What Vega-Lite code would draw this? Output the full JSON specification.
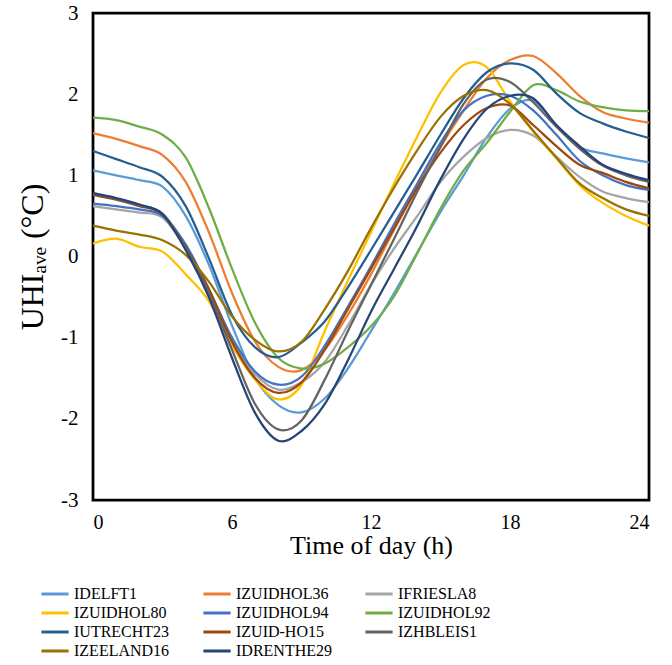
{
  "$schema": "https://vega.github.io/schema/vega-lite/v6.json",
  "width": 556,
  "height": 487,
  "autosize": {"type": "none"},
  "padding": {"left": 93, "top": 13, "right": 23, "bottom": 165},
  "background": "white",
  "config": {
    "view": {"stroke": "black", "strokeWidth": 2.75},
    "font": "Liberation Serif",
    "legend": {"labelFont": "Liberation Serif", "labelFontSize": 16, "labelColor": "black"}
  },
  "data": {
    "values": [
      {"h":0,"IDELFT1":1.06,"IZUIDHOL36":1.52,"IFRIESLA8":0.62,"IZUIDHOL80":0.16,"IZUIDHOL94":0.65,"IZUIDHOL92":1.71,"IUTRECHT23":1.30,"IZUID-HO15":0.76,"IZHBLEIS1":0.78,"IZEELAND16":0.38,"IDRENTHE29":0.78},
      {"h":1,"IDELFT1":1.00,"IZUIDHOL36":1.45,"IFRIESLA8":0.58,"IZUIDHOL80":0.22,"IZUIDHOL94":0.62,"IZUIDHOL92":1.68,"IUTRECHT23":1.20,"IZUID-HO15":0.70,"IZHBLEIS1":0.71,"IZEELAND16":0.32,"IDRENTHE29":0.72},
      {"h":2,"IDELFT1":0.94,"IZUIDHOL36":1.36,"IFRIESLA8":0.54,"IZUIDHOL80":0.12,"IZUIDHOL94":0.58,"IZUIDHOL92":1.60,"IUTRECHT23":1.10,"IZUID-HO15":0.62,"IZHBLEIS1":0.63,"IZEELAND16":0.27,"IDRENTHE29":0.64},
      {"h":3,"IDELFT1":0.86,"IZUIDHOL36":1.25,"IFRIESLA8":0.48,"IZUIDHOL80":0.06,"IZUIDHOL94":0.50,"IZUIDHOL92":1.50,"IUTRECHT23":0.98,"IZUID-HO15":0.52,"IZHBLEIS1":0.53,"IZEELAND16":0.20,"IDRENTHE29":0.52},
      {"h":4,"IDELFT1":0.50,"IZUIDHOL36":0.92,"IFRIESLA8":0.10,"IZUIDHOL80":-0.22,"IZUIDHOL94":0.15,"IZUIDHOL92":1.22,"IUTRECHT23":0.62,"IZUID-HO15":0.12,"IZHBLEIS1":0.12,"IZEELAND16":0.02,"IDRENTHE29":0.08},
      {"h":5,"IDELFT1":-0.10,"IZUIDHOL36":0.30,"IFRIESLA8":-0.45,"IZUIDHOL80":-0.55,"IZUIDHOL94":-0.40,"IZUIDHOL92":0.60,"IUTRECHT23":-0.02,"IZUID-HO15":-0.40,"IZHBLEIS1":-0.45,"IZEELAND16":-0.31,"IDRENTHE29":-0.50},
      {"h":6,"IDELFT1":-0.85,"IZUIDHOL36":-0.45,"IFRIESLA8":-1.05,"IZUIDHOL80":-1.10,"IZUIDHOL94":-1.00,"IZUIDHOL92":-0.15,"IUTRECHT23":-0.72,"IZUID-HO15":-1.05,"IZHBLEIS1":-1.15,"IZEELAND16":-0.74,"IDRENTHE29":-1.25},
      {"h":7,"IDELFT1":-1.50,"IZUIDHOL36":-1.05,"IFRIESLA8":-1.45,"IZUIDHOL80":-1.52,"IZUIDHOL94":-1.42,"IZUIDHOL92":-0.82,"IUTRECHT23":-1.12,"IZUID-HO15":-1.50,"IZHBLEIS1":-1.82,"IZEELAND16":-1.03,"IDRENTHE29":-1.93},
      {"h":8,"IDELFT1":-1.83,"IZUIDHOL36":-1.36,"IFRIESLA8":-1.64,"IZUIDHOL80":-1.76,"IZUIDHOL94":-1.58,"IZUIDHOL92":-1.25,"IUTRECHT23":-1.24,"IZUID-HO15":-1.68,"IZHBLEIS1":-2.13,"IZEELAND16":-1.17,"IDRENTHE29":-2.27},
      {"h":9,"IDELFT1":-1.92,"IZUIDHOL36":-1.40,"IFRIESLA8":-1.55,"IZUIDHOL80":-1.58,"IZUIDHOL94":-1.48,"IZUIDHOL92":-1.38,"IUTRECHT23":-1.06,"IZUID-HO15":-1.55,"IZHBLEIS1":-2.02,"IZEELAND16":-1.05,"IDRENTHE29":-2.15},
      {"h":10,"IDELFT1":-1.75,"IZUIDHOL36":-1.15,"IFRIESLA8":-1.30,"IZUIDHOL80":-0.92,"IZUIDHOL94":-1.10,"IZUIDHOL92":-1.32,"IUTRECHT23":-0.80,"IZUID-HO15":-1.15,"IZHBLEIS1":-1.52,"IZEELAND16":-0.65,"IDRENTHE29":-1.82},
      {"h":11,"IDELFT1":-1.38,"IZUIDHOL36":-0.72,"IFRIESLA8":-0.85,"IZUIDHOL80":-0.30,"IZUIDHOL94":-0.62,"IZUIDHOL92":-1.12,"IUTRECHT23":-0.38,"IZUID-HO15":-0.65,"IZHBLEIS1":-0.92,"IZEELAND16":-0.18,"IDRENTHE29":-1.28},
      {"h":12,"IDELFT1":-0.92,"IZUIDHOL36":-0.22,"IFRIESLA8":-0.35,"IZUIDHOL80":0.30,"IZUIDHOL94":-0.12,"IZUIDHOL92":-0.86,"IUTRECHT23":0.08,"IZUID-HO15":-0.15,"IZHBLEIS1":-0.35,"IZEELAND16":0.35,"IDRENTHE29":-0.68},
      {"h":13,"IDELFT1":-0.45,"IZUIDHOL36":0.33,"IFRIESLA8":0.10,"IZUIDHOL80":0.90,"IZUIDHOL94":0.40,"IZUIDHOL92":-0.49,"IUTRECHT23":0.55,"IZUID-HO15":0.35,"IZHBLEIS1":0.22,"IZEELAND16":0.85,"IDRENTHE29":-0.15},
      {"h":14,"IDELFT1":0.05,"IZUIDHOL36":0.85,"IFRIESLA8":0.50,"IZUIDHOL80":1.48,"IZUIDHOL94":0.90,"IZUIDHOL92":0.04,"IUTRECHT23":1.02,"IZUID-HO15":0.85,"IZHBLEIS1":0.80,"IZEELAND16":1.31,"IDRENTHE29":0.38},
      {"h":15,"IDELFT1":0.55,"IZUIDHOL36":1.35,"IFRIESLA8":0.92,"IZUIDHOL80":2.02,"IZUIDHOL94":1.40,"IZUIDHOL92":0.59,"IUTRECHT23":1.50,"IZUID-HO15":1.28,"IZHBLEIS1":1.35,"IZEELAND16":1.72,"IDRENTHE29":0.95},
      {"h":16,"IDELFT1":1.00,"IZUIDHOL36":1.80,"IFRIESLA8":1.23,"IZUIDHOL80":2.36,"IZUIDHOL94":1.80,"IZUIDHOL92":1.06,"IUTRECHT23":1.95,"IZUID-HO15":1.62,"IZHBLEIS1":1.88,"IZEELAND16":1.98,"IDRENTHE29":1.45},
      {"h":17,"IDELFT1":1.47,"IZUIDHOL36":2.20,"IFRIESLA8":1.46,"IZUIDHOL80":2.33,"IZUIDHOL94":1.98,"IZUIDHOL92":1.40,"IUTRECHT23":2.27,"IZUID-HO15":1.83,"IZHBLEIS1":2.18,"IZEELAND16":2.05,"IDRENTHE29":1.82},
      {"h":18,"IDELFT1":1.82,"IZUIDHOL36":2.42,"IFRIESLA8":1.56,"IZUIDHOL80":1.91,"IZUIDHOL94":1.98,"IZUIDHOL92":1.78,"IUTRECHT23":2.38,"IZUID-HO15":1.86,"IZHBLEIS1":2.15,"IZEELAND16":1.88,"IDRENTHE29":1.98},
      {"h":19,"IDELFT1":1.92,"IZUIDHOL36":2.47,"IFRIESLA8":1.49,"IZUIDHOL80":1.54,"IZUIDHOL94":1.80,"IZUIDHOL92":2.11,"IUTRECHT23":2.30,"IZUID-HO15":1.62,"IZHBLEIS1":1.90,"IZEELAND16":1.55,"IDRENTHE29":1.95},
      {"h":20,"IDELFT1":1.62,"IZUIDHOL36":2.26,"IFRIESLA8":1.23,"IZUIDHOL80":1.21,"IZUIDHOL94":1.50,"IZUIDHOL92":2.05,"IUTRECHT23":2.01,"IZUID-HO15":1.36,"IZHBLEIS1":1.60,"IZEELAND16":1.22,"IDRENTHE29":1.62},
      {"h":21,"IDELFT1":1.35,"IZUIDHOL36":1.98,"IFRIESLA8":0.98,"IZUIDHOL80":0.88,"IZUIDHOL94":1.18,"IZUIDHOL92":1.91,"IUTRECHT23":1.77,"IZUID-HO15":1.13,"IZHBLEIS1":1.33,"IZEELAND16":0.90,"IDRENTHE29":1.36},
      {"h":22,"IDELFT1":1.27,"IZUIDHOL36":1.78,"IFRIESLA8":0.80,"IZUIDHOL80":0.66,"IZUIDHOL94":1.00,"IZUIDHOL92":1.84,"IUTRECHT23":1.64,"IZUID-HO15":1.03,"IZHBLEIS1":1.12,"IZEELAND16":0.72,"IDRENTHE29":1.13},
      {"h":23,"IDELFT1":1.21,"IZUIDHOL36":1.70,"IFRIESLA8":0.72,"IZUIDHOL80":0.50,"IZUIDHOL94":0.88,"IZUIDHOL92":1.80,"IUTRECHT23":1.54,"IZUID-HO15":0.92,"IZHBLEIS1":1.00,"IZEELAND16":0.58,"IDRENTHE29":1.02},
      {"h":24,"IDELFT1":1.16,"IZUIDHOL36":1.65,"IFRIESLA8":0.67,"IZUIDHOL80":0.38,"IZUIDHOL94":0.82,"IZUIDHOL92":1.79,"IUTRECHT23":1.46,"IZUID-HO15":0.84,"IZHBLEIS1":0.92,"IZEELAND16":0.50,"IDRENTHE29":0.94}
    ]
  },
  "encoding": {
    "x": {
      "field": "h", "type": "quantitative",
      "scale": {"domain": [0, 24], "nice": false},
      "axis": {"values": [0, 6, 12, 18, 24], "title": "Time of day (h)", "grid": false, "ticks": false, "domain": false,
        "labelFont": "Liberation Serif", "labelFontSize": 20, "labelColor": "black", "labelPadding": 12,
        "titleFont": "Liberation Serif", "titleFontSize": 26, "titleFontWeight": "normal", "titleColor": "black", "titlePadding": 0}
    },
    "y": {
      "type": "quantitative",
      "scale": {"domain": [-3, 3], "nice": false},
      "axis": {"values": [-3, -2, -1, 0, 1, 2, 3], "labelExpr": "'' + datum.value", "title": "UHIₐᵥₑ (°C)", "grid": false, "ticks": false, "domain": false,
        "labelFont": "Liberation Serif", "labelFontSize": 21, "labelColor": "black", "labelPadding": 15,
        "titleFont": "Liberation Serif", "titleFontSize": 32, "titleFontWeight": "normal", "titleColor": "black", "titlePadding": 11}
    }
  },
  "layer": [
    {
      "mark": {"type": "rule", "color": "#D9D9D9", "strokeWidth": 1.5},
      "encoding": {"y": {"datum": 0}}
    },
    {
      "transform": [
        {"fold": ["IDELFT1","IZUIDHOL36","IFRIESLA8","IZUIDHOL80","IZUIDHOL94","IZUIDHOL92","IUTRECHT23","IZUID-HO15","IZHBLEIS1","IZEELAND16","IDRENTHE29"], "as": ["series", "value"]}
      ],
      "mark": {"type": "line", "interpolate": "cardinal", "strokeWidth": 2.25},
      "encoding": {
        "y": {"field": "value", "type": "quantitative"},
        "color": {
          "field": "series", "type": "nominal",
          "scale": {
            "domain": ["IDELFT1","IZUIDHOL36","IFRIESLA8","IZUIDHOL80","IZUIDHOL94","IZUIDHOL92","IUTRECHT23","IZUID-HO15","IZHBLEIS1","IZEELAND16","IDRENTHE29"],
            "range": ["#5B9BD5","#ED7D31","#A5A5A5","#FFC000","#4472C4","#70AD47","#255E91","#9E480E","#636363","#997300","#264478"]
          },
          "legend": {
            "title": null, "orient": "none", "legendX": -48, "legendY": 571,
            "direction": "horizontal", "columns": 3, "columnPadding": 27, "rowPadding": 1,
            "symbolType": "M-1.6,0H1.6", "symbolStrokeWidth": 3, "symbolSize": 289,
            "labelFont": "Liberation Serif", "labelFontSize": 16, "labelColor": "black", "labelOffset": 9, "labelLimit": 0
          }
        }
      }
    }
  ]
}
